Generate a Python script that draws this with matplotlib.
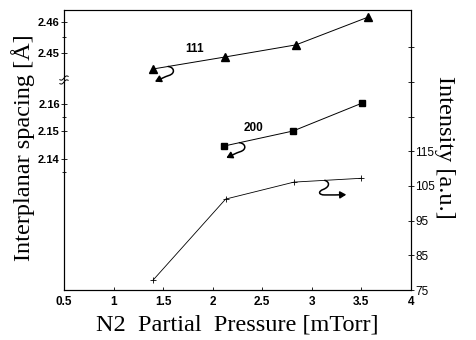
import numpy as np
import matplotlib
matplotlib.use('Agg')
import matplotlib.pyplot as plt
from matplotlib.path import Path
from matplotlib.patches import FancyArrowPatch
import matplotlib.transforms as mtransforms

# ---- data ----
pressure_111 = [1.40, 2.12, 2.84, 3.57]
spacing_111 = [2.4449, 2.4487, 2.4526, 2.4615]
pressure_200 = [2.11, 2.81, 3.51]
spacing_200 = [2.1445, 2.1500, 2.1602]
pressure_int = [1.40, 2.13, 2.82, 3.50]
intensity = [77.9, 101.2, 106.1, 107.2]

x_ticks = [0.5, 1, 1.5, 2, 2.5, 3, 3.5, 4]
x_tick_labels = ['0.5', '1', '1.5', '2', '2.5', '3', '3.5', '4']
up_ticks = [2.45, 2.46]
up_tick_labels = ['2.45', '2.46']
lo_ticks = [2.14, 2.15, 2.16]
lo_tick_labels = ['2.14', '2.15', '2.16']
int_ticks = [75, 85, 95, 105, 115, 125, 135, 145]
int_tick_labels = ['75', '85', '95', '105', '115', '', '', '']

SANS = 'Liberation Sans'
SERIF = 'Liberation Serif'

fig = plt.figure(figsize=(4.77, 3.40), dpi=100)
L, B, W, H = 64/477, 50/340, 347/477, 280/340
brk = 0.75  # fraction of axes height where the left axis is broken

ax = fig.add_axes([L, B, W, H])
ax.set_xlim(0.5, 4)
ax.set_ylim(0, 1)
ax.set_yticks([])
ax.set_xticks(x_ticks)
ax.set_xticklabels(x_tick_labels, fontfamily=SANS, fontsize=8.5, fontweight='bold')
ax.tick_params(axis='x', direction='in', length=2.5, width=0.6, pad=4)
for s in ax.spines.values():
    s.set_linewidth(0.8)
ax.spines['top'].set_color('#444444')

# right intensity axis
ax_r = ax.twinx()
ax_r.set_ylim(75, 155.7)
ax_r.set_yticks(int_ticks)
ax_r.set_yticklabels(int_tick_labels, fontfamily=SANS, fontsize=8.5)
ax_r.tick_params(axis='y', direction='inout', length=4, width=0.6, pad=1)
ax_r.spines['right'].set_linewidth(0.8)
ax_r.plot(pressure_int, intensity, color='black', lw=0.6, marker='+',
          ms=5, mew=0.6)

# upper left segment (111)
ax_up = fig.add_axes([L, B + brk*H, W, (1-brk)*H])
ax_up.patch.set_visible(False)
for s in ax_up.spines.values():
    s.set_visible(False)
ax_up.set_xlim(0.5, 4)
ax_up.set_xticks([])
ax_up.set_ylim(2.44137, 2.46374)
ax_up.set_yticks(up_ticks)
ax_up.set_yticklabels(up_tick_labels, fontfamily=SANS, fontsize=8, fontweight='bold')
ax_up.set_yticks([2.455], minor=True)
ax_up.tick_params(axis='y', which='both', direction='inout', length=4, width=0.6, pad=1)
ax_up.tick_params(axis='y', which='minor', length=3)
ax_up.plot(pressure_111, spacing_111, color='black', lw=0.7, marker='^', ms=5.5)
ax_up.text(1.82, 2.4512, '111', fontfamily=SANS, fontsize=8.5, fontweight='bold',
           ha='center', va='center')

# lower left segment (200)
ax_lo = fig.add_axes([L, B, W, brk*H])
ax_lo.patch.set_visible(False)
for s in ax_lo.spines.values():
    s.set_visible(False)
ax_lo.set_xlim(0.5, 4)
ax_lo.set_xticks([])
ax_lo.set_ylim(2.09218, 2.16855)
ax_lo.set_yticks(lo_ticks)
ax_lo.set_yticklabels(lo_tick_labels, fontfamily=SANS, fontsize=8, fontweight='bold')
ax_lo.set_yticks([2.135, 2.155], minor=True)
ax_lo.tick_params(axis='y', which='both', direction='inout', length=4, width=0.6, pad=1)
ax_lo.tick_params(axis='y', which='minor', length=3)
ax_lo.plot(pressure_200, spacing_200, color='black', lw=0.7, marker='s', ms=5)
ax_lo.text(2.41, 2.1512, '200', fontfamily=SANS, fontsize=8.5, fontweight='bold',
           ha='center', va='center')

# axis labels
fig.text(23/477, 1 - 148/340, 'Interplanar spacing [Å]', rotation=90,
         fontfamily=SERIF, fontsize=17.5, ha='center', va='center')
fig.text(445/477, 1 - 147/340, 'Intensity [a.u.]', rotation=-90,
         fontfamily=SERIF, fontsize=17.5, ha='center', va='center')
fig.text((64 + 347/2)/477, 1 - 325/340, 'N2  Partial  Pressure [mTorr]',
         fontfamily=SERIF, fontsize=17.5, ha='center', va='center')

# break mark on the left spine
for dy in (-0.007, 0.007):
    t = np.linspace(-1, 1, 30)
    xs = t * 0.012
    ys = brk + dy + 0.006 * t + 0.004 * np.sin(np.pi * t)
    ax.plot(xs, ys, transform=ax.transAxes, color='black', lw=0.7, clip_on=False)


def squiggle(axis, x0, y0, verts):
    """Curly arrow starting at data point (x0, y0); verts offsets in points."""
    px, py = axis.transData.transform((x0, y0))
    tr = mtransforms.Affine2D().scale(fig.dpi / 72.0).translate(px, py)
    codes = [Path.MOVETO] + [Path.CURVE4] * (len(verts) - 1)
    path = Path(verts, codes)
    arr = FancyArrowPatch(path=tr.transform_path(path),
                          arrowstyle='-|>,head_length=0.6,head_width=0.35',
                          mutation_scale=6, lw=1.1, color='black',
                          shrinkA=0, shrinkB=0,
                          transform=mtransforms.IdentityTransform())
    fig.add_artist(arr)


left_verts = [(0, 0), (4.5, -0.5), (5.5, -5), (0.5, -6.5),
              (-2.5, -7.5), (-5.5, -9), (-9.5, -11)]
right_verts = [(0, 0), (3.5, -1), (4, -4.5), (-1, -6.5),
               (-5, -8), (-4.5, -10.5), (0, -10.5),
               (5, -10.5), (10, -10.5), (15.5, -10.3)]

x_a = 1.55
squiggle(ax_up, x_a, np.interp(x_a, pressure_111, spacing_111), left_verts)
x_b = 2.27
squiggle(ax_lo, x_b, np.interp(x_b, pressure_200, spacing_200), left_verts)
x_c = 3.13
squiggle(ax_r, x_c, np.interp(x_c, pressure_int, intensity), right_verts)

fig.savefig('out.png', dpi=100)
